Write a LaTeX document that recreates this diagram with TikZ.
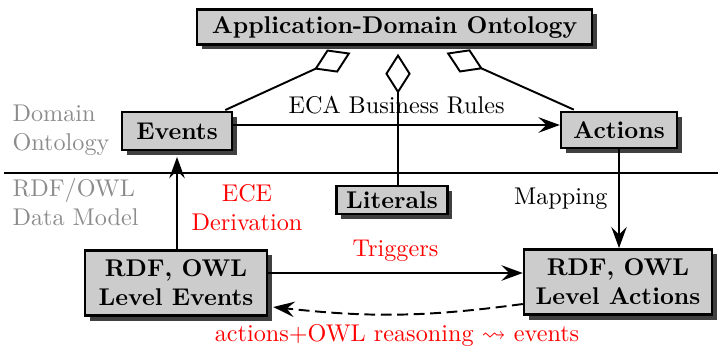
\documentclass[tikz,border=0pt]{standalone}
\usepackage{amssymb}
\usetikzlibrary{arrows.meta,shadows,calc,backgrounds}
\definecolor{boxgray}{gray}{0.80}
\definecolor{shadowgray}{gray}{0.25}
\definecolor{labelgray}{gray}{0.55}
\tikzset{
  conceptbox/.style={draw=black, line width=1pt, fill=boxgray, font=\bfseries,
    inner sep=0pt, align=center,
    drop shadow={shadow xshift=2pt, shadow yshift=-2pt, fill=shadowgray, opacity=1}},
  flow/.style={thick, -{Stealth[length=8.8pt,width=6.4pt,inset=3.2pt]}},
  aggregate/.style={thick, -{Diamond[open,length=16.5pt,width=10.5pt]}},
  note/.style={text=labelgray, align=left, anchor=west},
  redlabel/.style={text=red, align=center},
}
\begin{document}
\begin{tikzpicture}[x=0.4132pt, y=-0.4132pt]
\useasboundingbox (0,0) rectangle (718,352);

% concept boxes
\node[conceptbox, minimum width=163pt, minimum height=14.5pt] (adm) at (394.5,27) {Application-Domain Ontology};
\node[conceptbox, minimum width=45.5pt, minimum height=15.5pt] (ev) at (177,131) {Events};
\node[conceptbox, minimum width=47.9pt, minimum height=15pt] (act) at (619,130) {Actions};
\node[conceptbox, minimum width=45.9pt, minimum height=11.4pt] (lit) at (392,200) {Literals};
\node[conceptbox, minimum width=75.2pt, minimum height=27pt] (lev) at (176,283) {RDF, OWL\\Level Events};
\node[conceptbox, minimum width=77.7pt, minimum height=27pt] (lac) at (618,282) {RDF, OWL\\Level Actions};

% layer labels and separator
\node[note] (domL) at (4,130) {Domain\\Ontology};
\node[note] (rdfL) at (4,202) {RDF/OWL\\Data Model};
\coordinate (sepL) at (4,173);
\coordinate (sepR) at (718,173);
\draw[thick] (sepL) -- (sepR);

% aggregation links to the application-domain ontology
\coordinate (litTop) at ($(lit.north)+(6,0)$);
\coordinate (admMid) at ($(adm.south)+(3.5,8)$);
\begin{scope}[on background layer]
  \draw[aggregate] ($(ev.north east)+(-8,-1)$) -- ($(adm.south)+(-44,7)$);
  \draw[aggregate] ($(act.north west)+(14,-1)$) -- ($(adm.south)+(52,7)$);
  \draw[aggregate] (litTop) -- (litTop |- admMid);
\end{scope}

% rule and mapping arrows
\coordinate (evOut) at ($(ev.east)+(0,-6)$);
\draw[flow] (evOut) -- (evOut -| act.west)
  node[midway, above=1pt] (eca) {ECA Business Rules};
\draw[flow] (act.south) -- (act.south |- lac.north)
  node[midway, left=1pt] (map) {Mapping};
\draw[flow] (lev.north -| ev.south) -- ($(ev.south)+(0,6)$);
\node[redlabel] (ece) at (247,208) {ECE\\Derivation};

\coordinate (trOut) at ($(lev.east)+(0,-10)$);
\draw[flow] (trOut) -- (trOut -| lac.west)
  node[midway, above=1pt, redlabel] (trig) {Triggers};
\draw[flow, dash pattern=on 4.5pt off 2.3pt]
  ($(lac.west)+(0,22)$) to[bend left=7] ($(lev.east)+(5,24)$);
\node[redlabel] (reason) at (397,335) {actions+OWL reasoning $\leadsto$ events};
\end{tikzpicture}
\end{document}
